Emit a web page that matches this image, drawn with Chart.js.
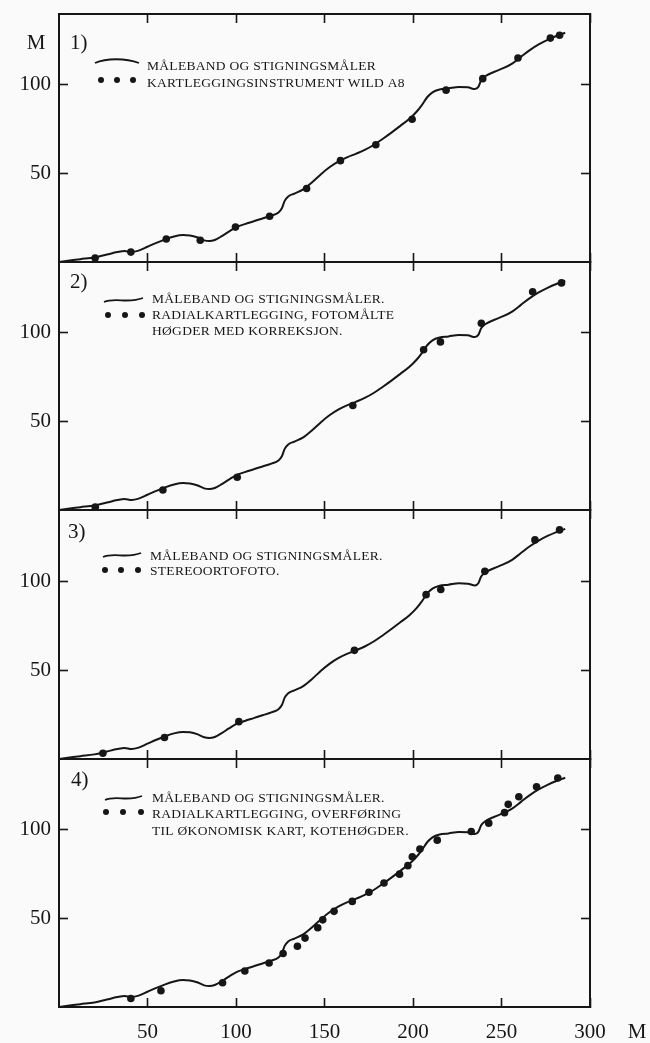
<!DOCTYPE html>
<html><head><meta charset="utf-8">
<script src="https://cdn.jsdelivr.net/npm/chart.js@4.4.1/dist/chart.umd.min.js"></script>
<style>
html,body{margin:0;padding:0;background:#fafafa;}
#wrap{position:relative;width:650px;height:1043px;overflow:hidden;background:#fafafa;}
canvas{position:absolute;left:0;}
</style></head><body><div id="wrap">
<canvas id="c1"></canvas><canvas id="c2"></canvas><canvas id="c3"></canvas><canvas id="c4"></canvas>
</div>
<script>
// ---- data (metres) ----
const profileX = [0,6,12,20,27,33,37,41,45,50,55,60,65,70,74,78,82,85,88,92,96,100,105,110,115,120,124,126,127.5,129.5,133,138,143,148,153,158,163,168,173,178,183,188,193,198,202,205,208,211,215,220,226,231,235,237,238.5,241,246,251,256,261,266,271,276,281,286];
const profileY = [0,0.8,1.6,2.6,4.2,5.6,6.2,5.6,6.4,8.6,10.8,12.8,14.4,15.2,15.0,14.0,12.2,11.8,12.4,14.6,17.2,19.6,21.4,23.0,24.6,26.2,28.0,30.5,34.5,37,38.6,41,45,49.6,53.6,56.8,59.2,61.2,63.4,66.2,69.6,73.2,77,80.8,84.8,88.6,93,95.8,97.4,98,98.8,98.6,97.6,99,102.6,105,107.4,109.4,112,115.8,119.6,122.8,125.4,127.6,129.4];

const wildX = [20.4,40.6,60.6,79.8,99.7,119,139.9,159,179,199.5,218.7,239.4,259.3,277.6,282.8];
const wildY = [2.3,5.6,13.0,12.3,19.7,25.8,41.5,57.2,66.2,80.6,97.0,103.5,115.2,126.4,128];

const radialX = [20.5,58.7,100.7,166,206,215.5,238.6,267.6,283.9];
const radialY = [1.6,11.3,18.5,59,90.5,94.9,105.4,123.2,128.2];

const orthoX = [24.8,59.6,101.6,166.9,207.4,215.7,240.6,268.9,282.8];
const orthoY = [3.2,12.1,21,61.1,92.4,95.3,105.5,123.2,128.8];

const okartX = [40.6,57.6,92.4,105,118.7,126.6,134.7,139,146.2,149,155.4,165.7,175.1,183.6,192.4,197.1,199.6,203.9,213.7,232.9,242.8,251.7,253.8,259.8,269.8,281.8];
const okartY = [4.8,9.2,13.7,20.3,24.8,30.2,34.3,38.9,44.7,49.2,54,59.6,64.8,70,75,79.8,84.8,89.2,94.2,99.1,103.8,109.7,114.4,118.7,124.3,129.3];

const xTicks = [50,100,150,200,250,300];
const yTicks = [50,100];

const panelLabels = ["1)","2)","3)","4)"];
const legend1 = ["MÅLEBAND OG STIGNINGSMÅLER","KARTLEGGINGSINSTRUMENT WILD A8"];
const legend2 = ["MÅLEBAND OG STIGNINGSMÅLER.","RADIALKARTLEGGING, FOTOMÅLTE","HØGDER MED KORREKSJON."];
const legend3 = ["MÅLEBAND OG STIGNINGSMÅLER.","STEREOORTOFOTO."];
const legend4 = ["MÅLEBAND OG STIGNINGSMÅLER.","RADIALKARTLEGGING, OVERFØRING","TIL ØKONOMISK KART, KOTEHØGDER."];
const unitLabel = "M";

// ---- layout ----
const INK = '#161616';
const SERIF = '"Liberation Serif", "Times New Roman", serif';
const panelTops = [14, 262, 510, 759];
const panelH = [248, 248, 249, 248];
const TOPAX = 10;

const panels = [
  {dx: wildX, dy: wildY, label: panelLabels[0], lines: legend1, arch: true,
   labelX: 70, labelDy: 29, curveX: [95,139], curveDy: 47, dotsX: [101,117,133], dotsDy: 66, textX: 147, textDy: [52,69]},
  {dx: radialX, dy: radialY, label: panelLabels[1], lines: legend2,
   labelX: 70, labelDy: 20, curveX: [104,143], curveDy: 38, dotsX: [108,125,142], dotsDy: 53, textX: 152, textDy: [37,53,69]},
  {dx: orthoX, dy: orthoY, label: panelLabels[2], lines: legend3,
   labelX: 68, labelDy: 22, curveX: [103,141], curveDy: 45, dotsX: [105,121,138], dotsDy: 60, textX: 150, textDy: [46,61]},
  {dx: okartX, dy: okartY, label: panelLabels[3], lines: legend4,
   labelX: 71, labelDy: 21, curveX: [105,142], curveDy: 39, dotsX: [106,123,141], dotsDy: 53, textX: 152, textDy: [39,55,72]}
];

const annot = {
  id: 'annot',
  afterDraw(chart, args, o) {
    const ctx = chart.ctx, top = chart.chartArea.top;
    ctx.save();
    ctx.fillStyle = INK; ctx.strokeStyle = INK;
    ctx.textBaseline = 'middle'; ctx.textAlign = 'left';
    ctx.font = '21px ' + SERIF;
    ctx.fillText(o.label, o.labelX, top + o.labelDy);
    if (o.topUnit) { ctx.textAlign = 'center'; ctx.fillText(unitLabel, 36, top + 29); ctx.textAlign = 'left'; }
    if (o.bottomUnit) { ctx.textAlign = 'center'; ctx.fillText(unitLabel, 637, chart.chartArea.bottom + 25); ctx.textAlign = 'left'; }
    // legend curve
    const [x0, x1] = o.curveX, cy = top + o.curveDy, w = x1 - x0;
    ctx.lineWidth = 1.8;
    ctx.beginPath();
    if (o.arch) {
      ctx.moveTo(x0, cy + 2);
      ctx.bezierCurveTo(x0 + w*0.25, cy - 3, x0 + w*0.7, cy - 3, x1, cy + 2);
    } else {
      ctx.moveTo(x0, cy + 2);
      ctx.bezierCurveTo(x0 + w*0.3, cy - 3, x0 + w*0.6, cy + 4, x1, cy - 2);
    }
    ctx.stroke();
    o.dotsX.forEach(x => { ctx.beginPath(); ctx.arc(x, top + o.dotsDy, 3, 0, Math.PI*2); ctx.fill(); });
    ctx.font = '13.5px ' + SERIF;
    if ('letterSpacing' in ctx) ctx.letterSpacing = '0.3px';
    o.lines.forEach((t, i) => ctx.fillText(t, o.textX, top + o.textDy[i]));
    ctx.restore();
  }
};

function axisGrid() {
  return {display: true, drawOnChartArea: false, drawTicks: true, tickLength: -9, tickWidth: 1.6, tickColor: INK};
}
function axisBorder() { return {display: true, color: INK, width: 2}; }
function fixSize(s, w, h) {
  if (w !== null) s.width = w;
  if (h !== null) s.height = h;
  s.paddingTop = 0; s.paddingBottom = 0; s.paddingLeft = 0; s.paddingRight = 0;
}

panels.forEach((p, i) => {
  const last = i === 3;
  const bottomH = last ? 40 : 10;
  const cv = document.getElementById('c' + (i+1));
  const h = TOPAX + panelH[i] + bottomH;
  cv.width = 650; cv.height = h;
  cv.style.width = '650px'; cv.style.height = h + 'px';
  cv.style.top = (panelTops[i] - TOPAX) + 'px';
  new Chart(cv, {
    type: 'scatter',
    data: {
      datasets: [
        {type: 'line', data: profileX.map((x, k) => ({x, y: profileY[k]})), borderColor: INK, borderWidth: 2,
         pointRadius: 0, cubicInterpolationMode: 'monotone', fill: false, order: 2},
        {type: 'scatter', data: p.dx.map((x, k) => ({x, y: p.dy[k]})), backgroundColor: INK, borderWidth: 0,
         pointRadius: 3.8, order: 1}
      ]
    },
    options: {
      responsive: false, animation: false, devicePixelRatio: 1,
      layout: {padding: 0},
      plugins: {legend: {display: false}, tooltip: {enabled: false},
        annot: Object.assign({}, p, {topUnit: i === 0, bottomUnit: last})},
      scales: {
        x: {type: 'linear', position: 'bottom', min: 0, max: 300,
            afterBuildTicks: s => { s.ticks = xTicks.map(v => ({value: v})); },
            ticks: {display: last, color: INK, font: {family: SERIF, size: 21}, padding: 22, maxRotation: 0, autoSkip: false},
            grid: axisGrid(), border: axisBorder(),
            afterFit: s => fixSize(s, null, bottomH)},
        xTop: {type: 'linear', position: 'top', min: 0, max: 300,
            afterBuildTicks: s => { s.ticks = xTicks.map(v => ({value: v})); },
            ticks: {display: false}, grid: axisGrid(), border: axisBorder(),
            afterFit: s => fixSize(s, null, TOPAX)},
        y: {type: 'linear', position: 'left', min: 0, max: 140,
            afterBuildTicks: s => { s.ticks = yTicks.map(v => ({value: v})); },
            ticks: {color: INK, font: {family: SERIF, size: 21}, padding: 17},
            grid: axisGrid(), border: axisBorder(),
            afterFit: s => fixSize(s, 59, null)},
        yRight: {type: 'linear', position: 'right', min: 0, max: 140,
            afterBuildTicks: s => { s.ticks = yTicks.map(v => ({value: v})); },
            ticks: {display: false}, grid: axisGrid(), border: axisBorder(),
            afterFit: s => fixSize(s, 60, null)}
      }
    },
    plugins: [annot]
  });
});
</script></body></html>
